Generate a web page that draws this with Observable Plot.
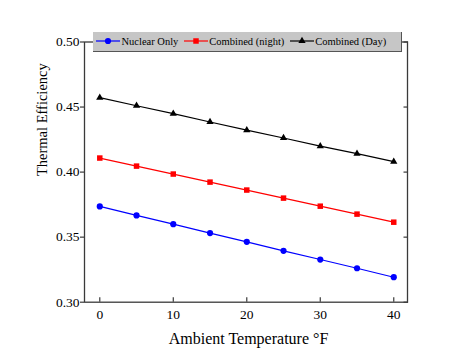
<!DOCTYPE html>
<html>
<head>
<meta charset="utf-8">
<script src="https://cdn.jsdelivr.net/npm/d3@7"></script>
<script src="https://cdn.jsdelivr.net/npm/@observablehq/plot@0.6"></script>
<style>
  body { margin: 0; background: #fff; }
  #wrap { position: relative; width: 474px; height: 362px; }
  #wrap svg text { font-family: "Liberation Serif", "Times New Roman", serif; }
  #legend {
    position: absolute; left: 93px; top: 32px; width: 309px; height: 19.5px;
    box-sizing: border-box; background: #c6c6c6;
    border-right: 1.5px solid #555; border-bottom: 1.5px solid #555;
    display: flex; align-items: center; padding-left: 3px;
    font-family: "Liberation Serif", "Times New Roman", serif; font-size: 10.5px; color: #000;
  }
  .item { display: flex; align-items: center; margin-right: 5.5px; }
  .item svg { margin-right: 1.5px; }
</style>
</head>
<body>
<div id="wrap"></div>
<script>
// ---- data ----
const temps = [0, 5, 10, 15, 20, 25, 30, 35, 40];
const nuclearOnly   = [0.3736, 0.3667, 0.3600, 0.3531, 0.3464, 0.3395, 0.3328, 0.3261, 0.3192];
const combinedNight = [0.4108, 0.4046, 0.3985, 0.3923, 0.3862, 0.3800, 0.3738, 0.3677, 0.3615];
const combinedDay   = [0.4572, 0.4510, 0.4449, 0.4385, 0.4323, 0.4262, 0.4200, 0.4142, 0.4080];
const seriesNames = ["Nuclear Only", "Combined (night)", "Combined (Day)"];
const seriesColors = ["#0000ff", "#ff0000", "#000000"];
const seriesSymbols = ["circle", "square", "triangle"];
const seriesR = [3.1, 3.1, 2.7];
const xTicks = [0, 10, 20, 30, 40];
const yTicks = [0.30, 0.35, 0.40, 0.45, 0.50];
const xLabel = "Ambient Temperature \u00B0F";
const yLabel = "Thermal Efficiency";

const serif = "'Liberation Serif', 'Times New Roman', serif";
const allValues = [nuclearOnly, combinedNight, combinedDay];
const marks = [];
allValues.forEach((vals, i) => {
  const rows = temps.map((t, j) => ({t, v: vals[j]}));
  marks.push(Plot.line(rows, {x: "t", y: "v", stroke: seriesColors[i], strokeWidth: 1.2}));
  marks.push(Plot.dot(rows, {x: "t", y: "v", fill: seriesColors[i], symbol: seriesSymbols[i], r: seriesR[i], stroke: "none"}));
});

const frameColor = "#3a3a3a";
const chart = Plot.plot({
  width: 474,
  height: 362,
  marginLeft: 84,
  marginRight: 67,
  marginTop: 41.5,
  marginBottom: 60.3,
  style: {fontFamily: serif, fontSize: "13.5px", color: "#000", background: "#fff"},
  x: {domain: [-2.08, 41.87]},
  y: {domain: [0.30, 0.50]},
  marks: [
    Plot.axisX({ticks: xTicks, tickSize: -4.5, tickFormat: () => "", label: null, stroke: frameColor, strokeWidth: 1.2}),
    Plot.axisX({ticks: xTicks, tickSize: 0, tickPadding: 7, tickFormat: d => String(d), label: null, fill: "#000", fontSize: 13.5, fontFamily: serif}),
    Plot.axisY({ticks: yTicks, tickSize: 4, tickPadding: 1, tickFormat: d => d.toFixed(2), label: null, stroke: frameColor, strokeWidth: 1.2, fill: "#000", fontSize: 13.5, fontFamily: serif}),
    Plot.axisY({anchor: "right", ticks: yTicks, tickSize: -4.5, tickFormat: () => "", label: null, stroke: frameColor, strokeWidth: 1.2}),
    ...marks,
    Plot.frame({stroke: frameColor, strokeWidth: 1.3}),
    Plot.text([xLabel], {text: d => d, frameAnchor: "bottom", dx: 2.5, dy: 36.5, lineAnchor: "middle", fontSize: 16, fontFamily: serif, fill: "#000"}),
    Plot.text([yLabel], {text: d => d, frameAnchor: "left", rotate: -90, dx: -42.5, dy: 4, lineAnchor: "middle", fontSize: 14.5, fontFamily: serif, fill: "#000"})
  ]
});
const wrap = document.getElementById("wrap");
wrap.appendChild(chart);

// ---- legend ----
const legend = document.createElement("div");
legend.id = "legend";
seriesNames.forEach((name, i) => {
  const item = document.createElement("div");
  item.className = "item";
  const svg = d3.create("svg").attr("width", 24).attr("height", 10);
  svg.append("line").attr("x1", 0).attr("x2", 24).attr("y1", 5).attr("y2", 5)
    .attr("stroke", seriesColors[i]).attr("stroke-width", 1.2);
  const sym = {circle: d3.symbolCircle, square: d3.symbolSquare, triangle: d3.symbolTriangle}[seriesSymbols[i]];
  svg.append("path").attr("transform", "translate(12,5)")
    .attr("d", d3.symbol(sym, Math.PI * seriesR[i] * seriesR[i])()).attr("fill", seriesColors[i]);
  item.appendChild(svg.node());
  const span = document.createElement("span");
  span.textContent = name;
  item.appendChild(span);
  legend.appendChild(item);
});
wrap.appendChild(legend);
</script>
</body>
</html>
